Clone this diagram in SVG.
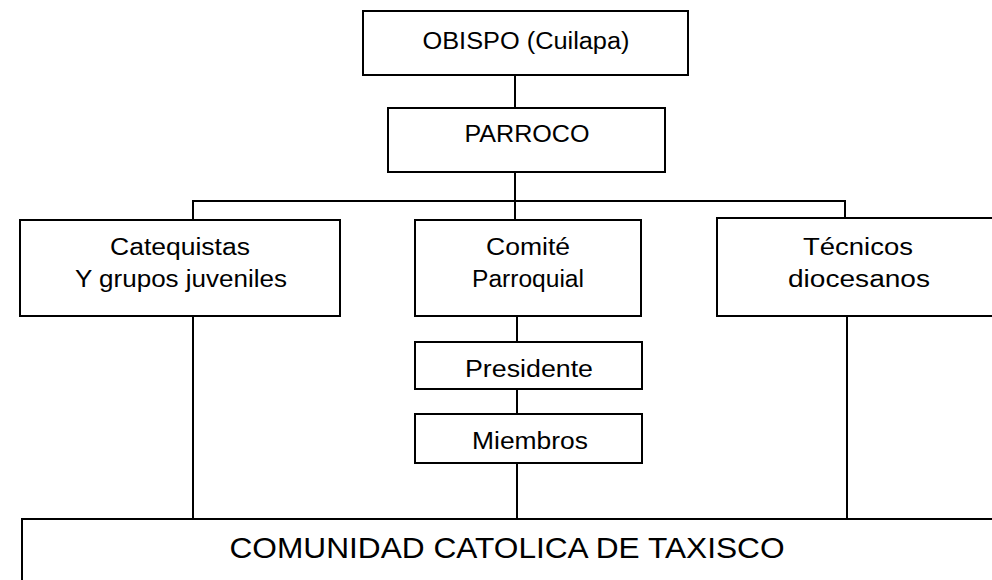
<svg xmlns="http://www.w3.org/2000/svg" width="992" height="580" viewBox="0 0 992 580">
<style>
.box{fill:#fff;stroke:#000;stroke-width:2}
.lbl{font-family:"Liberation Sans",Arial,sans-serif;font-size:23px;fill:#000;text-anchor:middle}
.big{font-size:29px}
.con line{stroke:#000;stroke-width:2}
</style>
<rect width="992" height="580" fill="#fff"/>
<g id="connectors" class="con">
<line x1="515" y1="75" x2="515" y2="108"/>
<line x1="515" y1="172" x2="515" y2="220"/>
<line x1="192" y1="201" x2="846" y2="201"/>
<line x1="193" y1="200" x2="193" y2="220"/>
<line x1="845" y1="200" x2="845" y2="218"/>
<line x1="193" y1="316" x2="193" y2="519"/>
<line x1="847" y1="316" x2="847" y2="519"/>
<line x1="517" y1="316" x2="517" y2="342"/>
<line x1="517" y1="389" x2="517" y2="414"/>
<line x1="517" y1="463" x2="517" y2="519"/>
</g>
<g id="obispo">
<rect class="box" x="363" y="11" width="325" height="64"/>
<text class="lbl" x="526" y="49" textLength="207" lengthAdjust="spacingAndGlyphs">OBISPO (Cuilapa)</text>
</g>
<g id="parroco">
<rect class="box" x="388" y="108" width="277" height="64"/>
<text class="lbl" x="527" y="142" textLength="125" lengthAdjust="spacingAndGlyphs">PARROCO</text>
</g>
<g id="catequistas">
<rect class="box" x="20" y="220" width="320" height="96"/>
<text class="lbl" x="180" y="255" textLength="140" lengthAdjust="spacingAndGlyphs">Catequistas</text>
<text class="lbl" x="181" y="287" textLength="212" lengthAdjust="spacingAndGlyphs">Y grupos juveniles</text>
</g>
<g id="comite">
<rect class="box" x="415" y="220" width="226" height="96"/>
<text class="lbl" x="528" y="255" textLength="84" lengthAdjust="spacingAndGlyphs">Comité</text>
<text class="lbl" x="528" y="287" textLength="112" lengthAdjust="spacingAndGlyphs">Parroquial</text>
</g>
<g id="tecnicos">
<rect class="box" x="717" y="218" width="290" height="98"/>
<text class="lbl" x="858" y="255" textLength="110" lengthAdjust="spacingAndGlyphs">Técnicos</text>
<text class="lbl" x="859" y="287" textLength="142" lengthAdjust="spacingAndGlyphs">diocesanos</text>
</g>
<g id="presidente">
<rect class="box" x="415" y="342" width="227" height="47"/>
<text class="lbl" x="529" y="377" textLength="128" lengthAdjust="spacingAndGlyphs">Presidente</text>
</g>
<g id="miembros">
<rect class="box" x="415" y="414" width="227" height="49"/>
<text class="lbl" x="530" y="449" textLength="116" lengthAdjust="spacingAndGlyphs">Miembros</text>
</g>
<g id="comunidad">
<rect class="box" x="22" y="519" width="990" height="90"/>
<text class="lbl big" x="507" y="558" textLength="555" lengthAdjust="spacingAndGlyphs">COMUNIDAD CATOLICA DE TAXISCO</text>
</g>
</svg>
